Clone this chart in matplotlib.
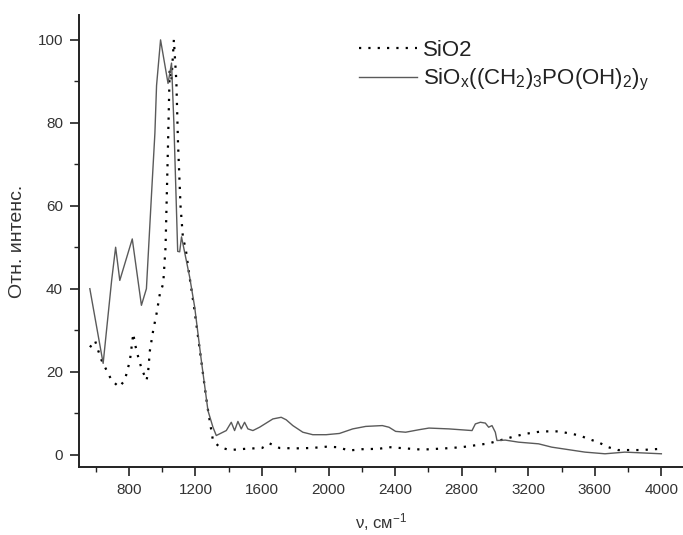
import matplotlib
matplotlib.use("Agg")
import matplotlib.pyplot as plt
from matplotlib.ticker import MultipleLocator

plt.rcParams['font.family'] = ['Liberation Sans', 'DejaVu Sans']
plt.rcParams['mathtext.fontset'] = 'custom'
plt.rcParams['mathtext.rm'] = 'Liberation Sans'
plt.rcParams['mathtext.it'] = 'Liberation Sans'

# Wavenumbers (cm^-1) and relative intensities
wn_hybrid = [565, 645, 696, 720, 745, 820, 875, 905, 936, 956, 966, 990,
             1035, 1056, 1070, 1093, 1105, 1116, 1165, 1195, 1235, 1275,
             1305, 1325, 1385, 1415, 1435, 1455, 1475, 1495, 1515, 1545,
             1585, 1665, 1715, 1745, 1785, 1845, 1905, 1985, 2065, 2145,
             2223, 2323, 2363, 2403, 2463, 2543, 2603, 2723, 2862, 2882,
             2912, 2942, 2962, 2982, 3002, 3012, 3062, 3142, 3262, 3341,
             3541, 3661, 3781, 4000]
int_hybrid = [40, 22, 42, 50, 42, 52, 36, 40, 63, 77.5, 89, 100,
              89.5, 94.4, 80, 49, 48.9, 52.5, 42.8, 35.6, 22.7, 10.6,
              6.6, 4.6, 5.8, 7.8, 5.8, 8.0, 6.2, 7.8, 6.2, 5.8,
              6.6, 8.6, 9.0, 8.4, 7.0, 5.4, 4.8, 4.8, 5.1, 6.2,
              6.8, 7.0, 6.6, 5.6, 5.4, 6.0, 6.4, 6.2, 5.8, 7.4,
              7.8, 7.6, 6.6, 7.0, 5.4, 3.4, 3.5, 3.0, 2.6, 1.8,
              0.6, 0.2, 0.6, 0.2]

wn_sio2 = [566, 596, 616, 636, 666, 696, 741, 775, 806, 826, 836, 856,
           876, 906, 916, 926, 946, 966, 986, 1006, 1020, 1035, 1045,
           1055, 1070, 1085, 1095, 1110, 1125, 1140, 1160, 1190, 1230,
           1270, 1305, 1345, 1405, 1500, 1600, 1645, 1705, 1800, 1900,
           1985, 2050, 2125, 2200, 2303, 2363, 2462, 2562, 2700, 2802,
           2962, 3100, 3181, 3281, 3381, 3450, 3510, 3560, 3620, 3680,
           3740, 3800, 3878, 3998]
int_sio2 = [25.9, 27.5, 25, 22.7, 20.3, 17.9, 16.3, 17.9, 22.7, 29.2, 26.7, 23.5,
            20.7, 17.9, 20.3, 25.1, 30, 34, 38.8, 41.2, 50, 75, 93,
            90, 100, 90, 75, 60, 52, 50, 44, 36, 24,
            12, 3.4, 1.8, 1.1, 1.4, 1.6, 2.7, 1.6, 1.5, 1.6,
            1.9, 1.8, 1.0, 1.3, 1.4, 1.8, 1.5, 1.2, 1.5, 1.8,
            2.7, 4.2, 5.0, 5.6, 5.6, 5.1, 4.6, 3.8, 3.0, 1.8,
            1.1, 1.1, 1.1, 1.4]

x_ticks = [800, 1200, 1600, 2000, 2400, 2800, 3200, 3600, 4000]
y_ticks = [0, 20, 40, 60, 80, 100]

fig = plt.figure(figsize=(6.83, 5.35), dpi=100)
ax = fig.add_axes([0.1157, 0.127, 0.8843, 0.845])

ax.plot(wn_sio2, int_sio2, color='black', lw=1.6, linestyle=(0, (1, 3.2)),
        label='SiO2')
ax.plot(wn_hybrid, int_hybrid, color='#5a5a5a', lw=1.0,
        label=r'SiO$_\mathregular{x}$((CH$_\mathregular{2}$)$_\mathregular{3}$PO(OH)$_\mathregular{2}$)$_\mathregular{y}$')

ax.set_xlim(500, 4130)
ax.set_ylim(-3, 106)
ax.set_xticks(x_ticks)
ax.set_yticks(y_ticks)
ax.xaxis.set_minor_locator(MultipleLocator(200))
ax.yaxis.set_minor_locator(MultipleLocator(10))

for s in ['top', 'right']:
    ax.spines[s].set_visible(False)
for s in ['left', 'bottom']:
    ax.spines[s].set_linewidth(1.4)
    ax.spines[s].set_color('#222222')

ax.tick_params(which='major', direction='out', length=6.5, width=1.2,
               labelsize=11, labelcolor='#333333', color='#222222', pad=5)
ax.tick_params(which='minor', direction='out', length=3.5, width=1.0,
               color='#222222')

ax.set_xlabel(r'ν, см$^{\mathregular{-1}}$', fontsize=12, color='#333333', labelpad=10)
ax.set_ylabel('Отн. интенс.', fontsize=14, color='#333333', labelpad=8)

leg = ax.legend(loc='upper left', bbox_to_anchor=(0.43, 0.99), frameon=False,
                fontsize=16, handlelength=2.6, handletextpad=0.3,
                labelspacing=0.3, labelcolor='#222222')

fig.savefig('out.png', dpi=100)
